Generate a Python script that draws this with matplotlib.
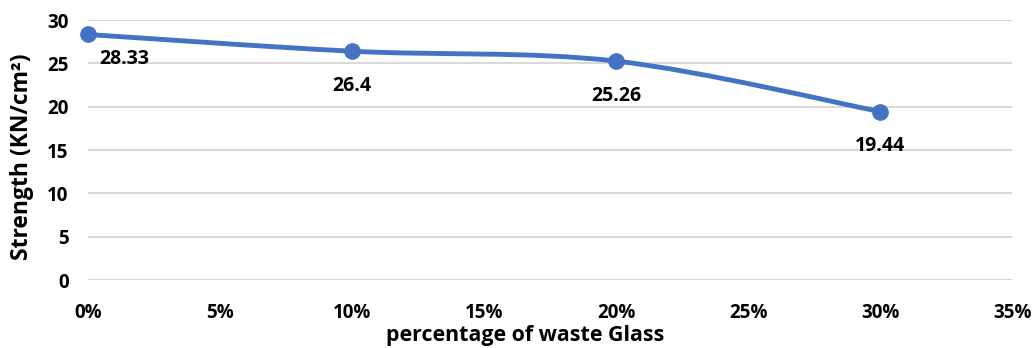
import matplotlib
matplotlib.use("Agg")
import matplotlib.pyplot as plt
import numpy as np
from matplotlib.path import Path
from matplotlib.patches import PathPatch
from matplotlib.ticker import PercentFormatter

glass_pct = [0.0, 0.10, 0.20, 0.30]
strength = [28.33, 26.4, 25.26, 19.44]
value_labels = ["28.33", "26.4", "25.26", "19.44"]

BLUE = "#4472C4"
GRID = "#D9D9D9"
FONT = ["Open Sans", "DejaVu Sans"]

plt.rcParams["font.family"] = FONT
plt.rcParams["font.weight"] = "bold"


def smooth_path(x, y, k=1.0):
    # Catmull-Rom style cubic Bezier through the points (spreadsheet "smoothed line")
    x = np.asarray(x, float)
    y = np.asarray(y, float)
    n = len(x)
    verts = [(x[0], y[0])]
    codes = [Path.MOVETO]
    for i in range(n - 1):
        i0 = max(i - 1, 0)
        i3 = min(i + 2, n - 1)
        c1 = (x[i] + (x[i + 1] - x[i0]) / 6 * k, y[i] + (y[i + 1] - y[i0]) / 6 * k)
        c2 = (x[i + 1] - (x[i3] - x[i]) / 6 * k, y[i + 1] - (y[i3] - y[i]) / 6 * k)
        verts += [c1, c2, (x[i + 1], y[i + 1])]
        codes += [Path.CURVE4] * 3
    return Path(verts, codes)


fig = plt.figure(figsize=(10.35, 3.48), dpi=100)
ax = fig.add_axes([0.085, 0.195, 0.893, 0.7475])

ax.add_patch(PathPatch(smooth_path(glass_pct, strength), fill=False,
                       edgecolor=BLUE, lw=3.5, capstyle="round", zorder=3,
                       clip_on=False))
ax.plot(glass_pct, strength, "o", color=BLUE, ms=11, zorder=4, clip_on=False)

for i, (xv, yv, lab) in enumerate(zip(glass_pct, strength, value_labels)):
    off = (26, -18) if i == 0 else (0, -25)
    ax.annotate(lab, (xv, yv), xytext=off, textcoords="offset points",
                ha="center", va="center", fontsize=14, fontweight="bold")

ax.set_xlim(0, 0.35)
ax.set_ylim(0, 30)
ax.set_xticks(np.arange(0, 0.351, 0.05))
ax.set_yticks(np.arange(0, 31, 5))
ax.xaxis.set_major_formatter(PercentFormatter(1.0, decimals=0))
ax.yaxis.grid(True, color=GRID, lw=1.5)
ax.set_axisbelow(True)
for s in ax.spines.values():
    s.set_visible(False)
ax.tick_params(length=0, labelsize=13.5)
ax.tick_params(axis="x", pad=16.5)
ax.tick_params(axis="y", pad=14)

ax.set_xlabel("percentage of waste Glass", fontsize=15.4, fontweight="bold", va="center")
ax.xaxis.set_label_coords(0.473, -0.2115)
ax.set_ylabel("Strength (KN/cm²)", fontsize=16.5, fontweight="bold", va="center")
ax.yaxis.set_label_coords(-0.0714, 0.473)

fig.savefig("out.png", dpi=100)
